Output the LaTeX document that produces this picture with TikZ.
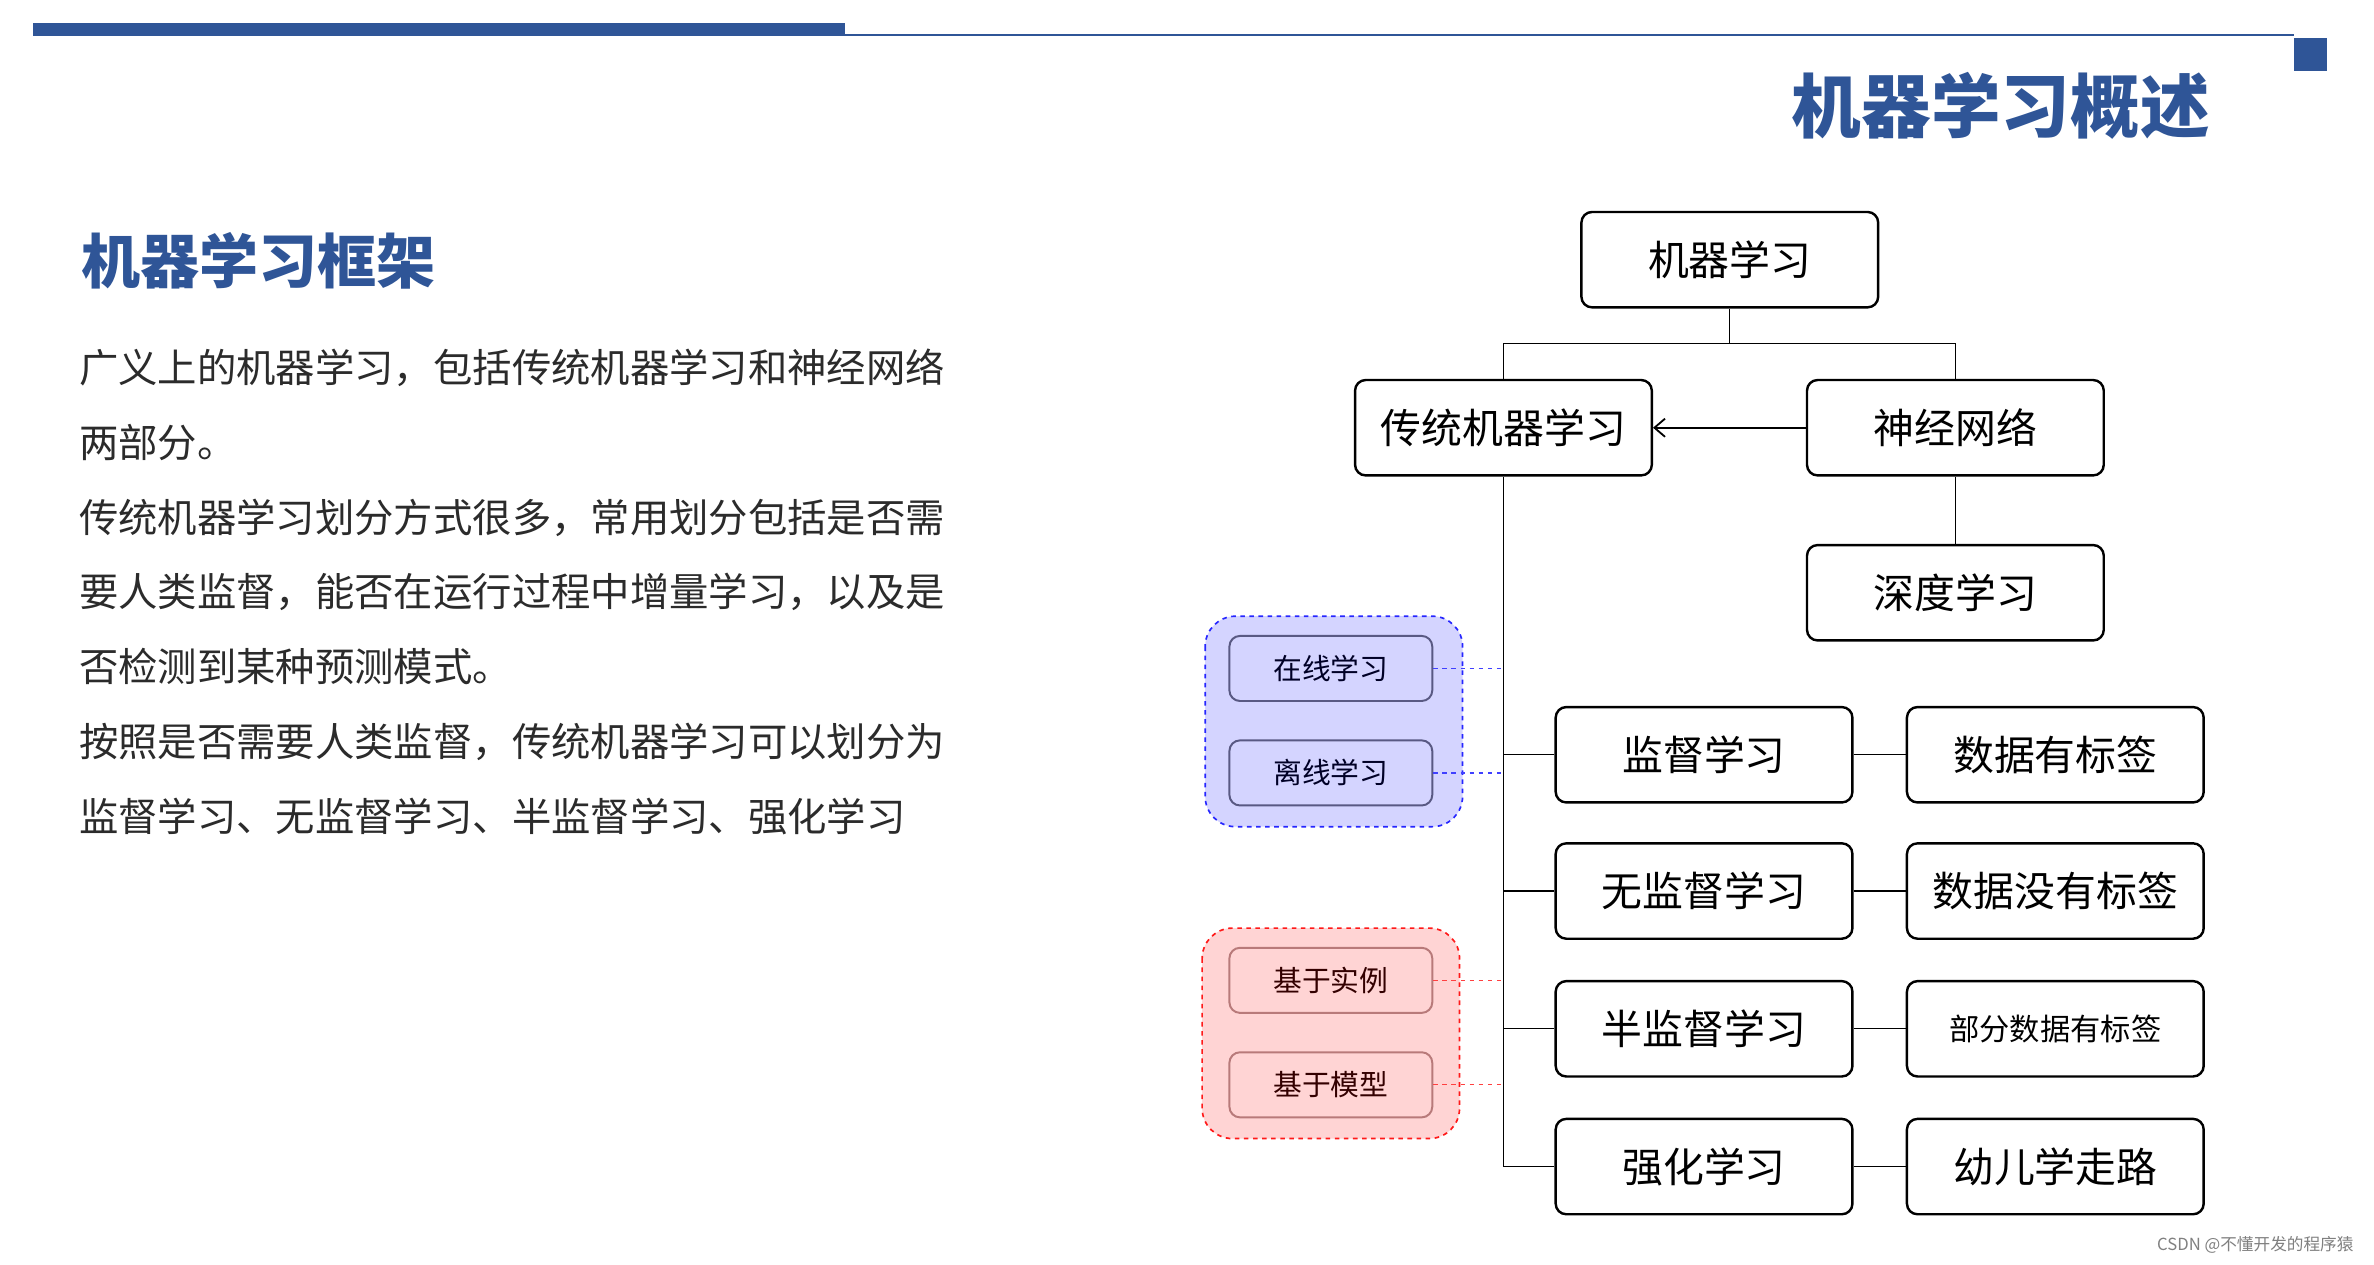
\documentclass[tikz,border=0pt]{standalone}
\usepackage{fontspec}
\setmainfont{Noto Sans CJK SC}
\usetikzlibrary{arrows.meta}
\definecolor{tblue}{HTML}{2F5597}
\definecolor{txt}{HTML}{2B2B2B}
\tikzset{
  box/.style={draw=black,line width=1.6pt,rounded corners=7pt,minimum width=196pt,minimum height=63pt,inner sep=0pt,font=\fontsize{27}{30}\selectfont,anchor=center},
  bsub/.style={draw=black!45!blue!30!gray,fill=blue!17,line width=1.3pt,rounded corners=7pt,minimum width=134pt,minimum height=43pt,font=\fontsize{19}{22}\selectfont,text=black!85!blue},
  rsub/.style={draw=red!30!gray!80,fill=red!17,line width=1.3pt,rounded corners=7pt,minimum width=134pt,minimum height=43pt,font=\fontsize{19}{22}\selectfont,text=black!80!red},
  link/.style={line width=0.8pt},
}
\begin{document}
\begin{tikzpicture}[x=1pt,y=-1pt]
\useasboundingbox (0,0) rectangle (1568,835);
\fill[white] (0,0) rectangle (1568,835);
% header
\fill[tblue] (22,15) rectangle (558,24);
\draw[tblue,line width=1pt] (558,23) -- (1515,23);
\fill[tblue] (1515,25) rectangle (1537,47);
\node[anchor=east,text=tblue,font=\fontsize{46}{50}\selectfont\bfseries] (title) at (1463,70) {机器学习概述};
\node[anchor=west,text=tblue,font=\fontsize{39}{44}\selectfont\bfseries] (sub) at (50,172) {机器学习框架};
\node[anchor=north west,text=txt,font=\fontsize{26}{49.5}\selectfont,align=left,inner sep=0pt] (body) at (52,230) {广义上的机器学习，包括传统机器学习和神经网络\\两部分。\\传统机器学习划分方式很多，常用划分包括是否需\\要人类监督，能否在运行过程中增量学习，以及是\\否检测到某种预测模式。\\按照是否需要人类监督，传统机器学习可以划分为\\监督学习、无监督学习、半监督学习、强化学习};
% groups
\draw[blue!85,dashed,line width=1.1pt,fill=blue!17,rounded corners=20pt] (796,407) rectangle (966,546);
\draw[red!90,dashed,line width=1.1pt,fill=red!17,rounded corners=20pt] (794,613) rectangle (964,752);
\node[bsub] (on) at (879,441.5) {在线学习};
\node[bsub] (off) at (879,510.5) {离线学习};
\node[rsub] (inst) at (879,647.5) {基于实例};
\node[rsub] (mod) at (879,716.5) {基于模型};
% main nodes
\node[box] (ml) at (1142.5,171.5) {机器学习};
\node[box] (tml) at (993,282.5) {传统机器学习};
\node[box] (nn) at (1291.5,282.5) {神经网络};
\node[box] (dl) at (1291.5,391.5) {深度学习};
\node[box] (s1) at (1125.5,498.5) {监督学习};
\node[box] (s2) at (1125.5,588.5) {无监督学习};
\node[box] (s3) at (1125.5,679.5) {半监督学习};
\node[box] (s4) at (1125.5,770.5) {强化学习};
\node[box] (d1) at (1357.5,498.5) {数据有标签};
\node[box] (d2) at (1357.5,588.5) {数据没有标签};
\node[box,font=\fontsize{20}{24}\selectfont] (d3) at (1357.5,679.5) {部分数据有标签};
\node[box] (d4) at (1357.5,770.5) {幼儿学走路};
% connectors
\coordinate (jn) at (1142.5,227);
\coordinate (bot) at (993,771);
\draw[link] (ml.south) -- (jn);
\draw[link] (tml.north) |- (jn) -| (nn.north);
\draw[link,-{Straight Barb[length=7pt,width=12pt,line width=1.2pt]},line width=1.2pt] (nn.west) -- (tml.east);
\draw[link] (nn.south) -- (dl.north);
\draw[line width=1.2pt] (tml.south) -- (bot);
\foreach \s in {s1,s2,s3,s4}{\draw[link] (\s.west) -- (\s.west -| bot);}
\foreach \s/\d in {s1/d1,s2/d2,s3/d3,s4/d4}{\draw[link] (\s.east) -- (\d.west);}
\draw[blue!75,dashed,line width=0.8pt] (on.east) -- (on.east -| bot);
\draw[blue!75,dashed,line width=0.8pt] (off.east) -- (off.east -| bot);
\draw[red!75,dashed,line width=0.8pt] (inst.east) -- (inst.east -| bot);
\draw[red!75,dashed,line width=0.8pt] (mod.east) -- (mod.east -| bot);
\node[anchor=east,text=gray,font=\fontsize{11}{13}\selectfont] (wm) at (1558,822) {CSDN @不懂开发的程序猿};
\end{tikzpicture}
\end{document}
